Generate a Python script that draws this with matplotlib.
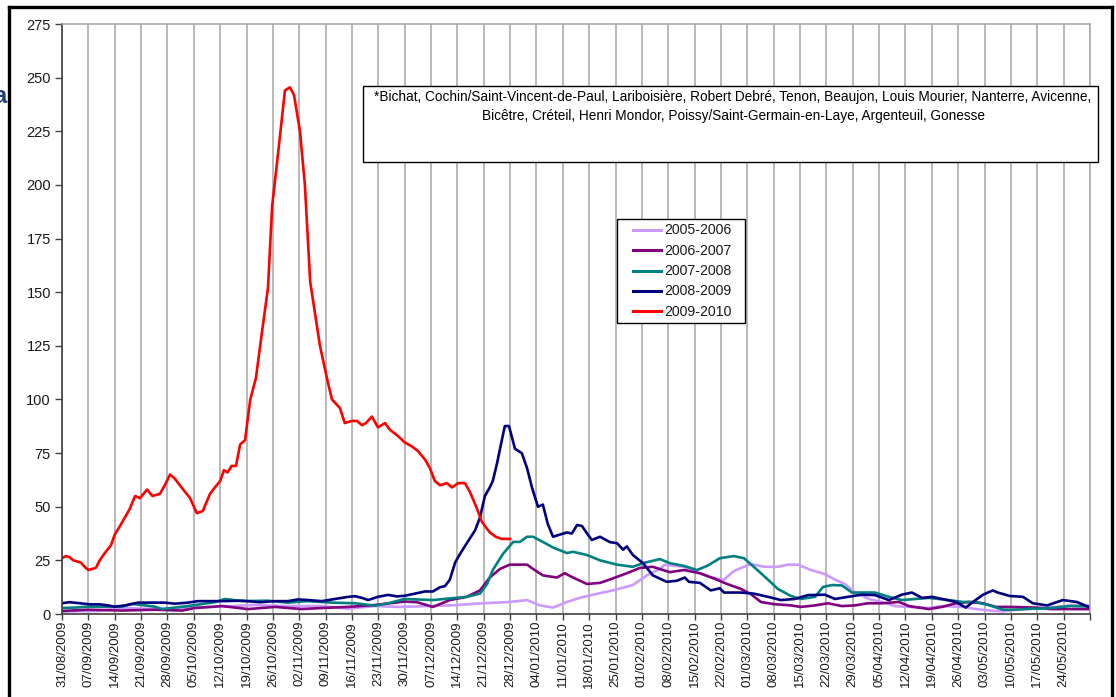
import matplotlib
matplotlib.use("Agg")
import matplotlib.pyplot as plt
from matplotlib.lines import Line2D
from matplotlib.patches import Rectangle
import pandas as pd

plt.rcParams['font.family'] = ['Liberation Sans', 'DejaVu Sans']

# ---------------- data (day offset from 31/08/2009, value) ----------------
start_date = "2009-08-31"
n_weeks = 39

days_0506 = [0, 9.6, 15.9, 24.7, 33.5, 42.5, 51.2, 60, 69, 76, 83.1, 89.7, 103, 111.8, 118.9, 123.5,
             126.9, 130.4, 134.1, 137.5, 141, 146.3, 151.6, 155.3, 158.8, 160.1, 165.2, 168.6, 172.3,
             175.8, 178.4, 181.1, 183, 186.4, 190.1, 192.8, 195.4, 198.9, 202.6, 205.3, 207.9, 210.6,
             214.3, 217.7, 221.2, 224.9, 230.2, 233.7, 239.2, 242.7, 246.4, 249.9, 253.3, 257, 260.5,
             263.9, 267.7, 273]
vals_0506 = [1.2, 1.4, 2.8, 2.3, 2.8, 3.5, 4.2, 3.7, 3.7, 2.5, 3.7, 3.3, 4, 5, 5.6, 6.5,
             4, 3, 5.6, 7.5, 9, 11, 13.5, 18, 21, 23, 22, 19.5, 17,
             16, 20, 22, 23.3, 22, 22, 23, 23, 20.5, 18.6, 16, 14, 10,
             7, 5.6, 3.7, 3.3, 2.8, 3.7, 3.3, 2.3, 1.6, 1.2, 2, 2.3, 3,
             3.3, 4, 4]

days_0607 = [0, 6.9, 15.9, 24.7, 31.9, 35.3, 42.5, 49.4, 56.6, 63.7, 69, 76, 83.1, 91, 94.3, 98.5,
             103, 107.5, 111, 113.6, 116.3, 118.9, 121.6, 123.5, 125.1, 127.7, 131.4, 133.5, 135.7,
             139.4, 142.9, 146.3, 150, 153.5, 156.9, 161.4, 165.2, 169.4, 173.1, 176.6, 180.3, 182.9,
             185.6, 189, 193.6, 196.2, 200, 203.4, 207.1, 210.6, 214, 217.7, 222.3, 224.9, 230.2,
             233.7, 237.4, 240.8, 244.6, 248, 251.7, 258.6, 262.4, 273]
vals_0607 = [1.4, 2, 1.6, 2, 1.6, 2.8, 3.7, 2.3, 3.3, 2.3, 2.8, 3.3, 4.2, 5.8, 5.5, 3.3,
             6.5, 8, 11, 17, 21, 23, 23, 23, 21, 18, 17, 19, 17,
             14, 14.5, 16.6, 19, 21.5, 22, 19.5, 20.5, 19, 16.6, 14, 11.7, 9.3,
             5.6, 4.6, 4, 3.3, 4, 5, 3.7, 4, 5, 5, 5.6, 3.7, 2.3,
             3.3, 5, 5.6, 5, 3.3, 3.3, 3, 2.3, 2.3]

days_0708 = [0, 3.5, 6.9, 12.7, 15.9, 18.6, 22, 24.7, 26.6, 30, 33.5, 36.6, 40.6, 43.3, 47.8, 54.7,
             60, 65.3, 71.7, 77.8, 83.1, 86.6, 91, 98.5, 107.5, 111, 112.9, 114.4, 117.1, 119.8,
             121.6, 123.5, 125.1, 127.7, 130.4, 134.1, 135.7, 139.4, 142.9, 147.4, 151.6, 154.3,
             158.8, 161.4, 165.2, 168.6, 171.3, 174.7, 178.4, 181.1, 183.7, 187.5, 190.1, 193.6,
             196.2, 200, 202.1, 204.5, 207.1, 209.8, 215.9, 219.6, 223, 230.2, 235.5, 239.2, 242.7,
             246.4, 249.9, 253.3, 257, 260.5, 263.9, 267.7, 273]
vals_0708 = [2.8, 3, 3.4, 3.4, 3.4, 4.7, 4, 3.4, 2.3, 3, 3.7, 4.5, 5.5, 7, 6, 6.2,
             5.3, 6, 5.3, 5, 3.9, 5, 7, 6.5, 8, 9.5, 14, 20.5, 28, 33.6,
             33.6, 36, 36, 33.6, 31, 28.4, 29, 27.5, 25, 23, 22, 23.7,
             25.6, 23.7, 22.4, 20.5, 22.4, 26, 27, 26, 22, 16, 11.7, 8.4,
             7, 8, 12.6, 13.5, 13.3, 10, 10, 8, 6.5, 7.5, 6.5, 5.6, 5.6,
             4, 2, 2, 2.5, 2.5, 3, 3.7, 3.5]

days_0809 = [0, 2, 4.8, 7.4, 10, 12.2, 14, 16.7, 20.2, 23.4, 27.3, 30, 33.5, 36.1, 42.5, 47.8,
             52.6, 56.6, 60, 62.7, 65.3, 69, 72.5, 76, 77.8, 79.7, 81.3, 83.9, 86.6, 89, 91, 93.7,
             96.4, 98.5, 100.4, 101.7, 103, 104.4, 105.7, 107.5, 109.7, 111, 112.3, 113.6, 114.4,
             115.5, 116.8, 117.6, 118.7, 120.3, 122.1, 123.5, 124.8, 126.4, 127.7, 129, 130.4,
             132.2, 134.1, 135.4, 136.8, 138.1, 139.4, 140.7, 142.9, 145.5, 147.4, 149, 150, 151.6,
             154.3, 156.9, 160.6, 163.3, 165.4, 166.5, 169.4, 172.3, 174.7, 175.8, 180.3, 183.7,
             187.5, 190.9, 194.6, 198.1, 202.6, 205.3, 208.7, 212.4, 215.9, 219.6, 223, 225.7,
             228.4, 231, 233.7, 237.4, 240, 241.9, 244.6, 247.2, 248.5, 251.7, 255.2, 257.8,
             261.6, 265.8, 269.5, 273]
vals_0809 = [5, 5.5, 5, 4.5, 4.5, 4, 3.4, 4, 5.3, 5.3, 5.3, 4.8, 5.3, 6, 6, 6.2,
             5.5, 6, 6, 6.8, 6.5, 6, 7, 8, 8.3, 7.5, 6.5, 8, 8.9, 8.2, 8.5, 9.5,
             10.5, 10.5, 12.5, 13, 16, 24, 28, 33, 39, 45, 55, 59, 62,
             70, 81, 87.6, 87.6, 77, 75, 68, 59, 50, 51, 42, 36,
             37, 38, 37.5, 41.5, 41, 37.6, 34.5, 36, 33.5, 33, 30, 31.5, 27.5,
             23.7, 18, 15, 15.5, 17, 15, 14.5, 11, 12, 10, 10, 9.5,
             8, 6.5, 7, 8.8, 9, 7, 8, 9, 8.8, 6.5, 9, 10,
             7.5, 8, 7, 5.6, 3, 5.6, 9, 11, 10, 8.4, 8, 5,
             4, 6.5, 5.6, 3]

days_0910 = [0, 1, 2, 3, 4, 5, 6, 7, 9, 10, 11.4, 13, 14, 15.4, 16.7, 18, 19.4, 20.7, 22.6, 24,
             26, 27.3, 28.7, 30, 31.3, 34, 35.8, 37.4, 39.3, 40.6, 42, 43, 44, 45, 46.2, 47.3,
             48.6, 50, 51.5, 53, 54.7, 55.8, 57.4, 59.2, 60.5, 61.6, 63.2, 64.5, 65.9, 67.2, 68.5,
             70.6, 71.7, 73.8, 75.1, 77, 78.3, 79.7, 80.7, 82.3, 83.9, 85.8, 87, 89.2, 91, 93,
             94.5, 96.4, 97.7, 99, 100.4, 102.2, 103.6, 105.2, 107, 108.3, 110, 111.5, 113.6,
             115.2, 116.8, 119]
vals_0910 = [26, 27, 26.5, 25, 24.5, 24, 22, 20.5, 21.5, 25, 28.5, 32, 37, 41, 45, 49, 55, 54, 58, 55,
             56, 60, 65, 63, 60, 54, 47, 48, 56, 59, 62, 67, 66, 69, 69, 79,
             81, 100, 110, 130, 152, 190, 215, 244, 245.5, 242, 225, 200, 155, 140, 125,
             108, 100, 96, 89, 90, 90, 88, 89, 92, 87, 89, 86, 83, 80, 78,
             76, 72, 68, 62, 60, 61, 59, 61, 61, 57, 50, 43, 38,
             36, 35, 35]

series = [
    ("2005-2006", days_0506, vals_0506, "#CC99FF"),
    ("2006-2007", days_0607, vals_0607, "#800080"),
    ("2007-2008", days_0708, vals_0708, "#008080"),
    ("2008-2009", days_0809, vals_0809, "#000080"),
    ("2009-2010", days_0910, vals_0910, "#FF0000"),
]

hospitals_line1 = ("*Bichat, Cochin/Saint-Vincent-de-Paul, Lariboisière, Robert Debré, Tenon, "
                   "Beaujon, Louis Mourier, Nanterre, Avicenne,")
hospitals_line2 = "Bicêtre, Créteil, Henri Mondor, Poissy/Saint-Germain-en-Laye, Argenteuil, Gonesse"

# ---------------- figure ----------------
W, H = 1116, 697
fig = plt.figure(figsize=(W / 100, H / 100), dpi=100)
fig.patch.set_facecolor("white")


def fx(px):
    return px / W


def fy(py):
    return 1 - py / H


ax = fig.add_axes([fx(62), fy(614), fx(1090) - fx(62), fy(24) - fy(614)])

for label, d, v, c in series:
    ax.plot(d, v, color=c, lw=1.9, label=label, solid_joinstyle="round")

last_day = 7 * n_weeks
ax.set_xlim(0, last_day)
ax.set_ylim(0, 275)
ax.set_yticks(range(0, 276, 25))

tick_days = list(range(0, last_day + 1, 7))
dates = pd.date_range(start_date, periods=len(tick_days), freq="7D")
tick_labels = [dt.strftime("%d/%m/%Y") for dt in dates]
tick_labels[-1] = ""
ax.set_xticks(tick_days)
ax.set_xticklabels(tick_labels, rotation=90, fontsize=9.5, color="#1a1a1a")

ax.xaxis.grid(True, color="#a6a6a6", lw=1.1)
ax.yaxis.grid(False)
ax.set_axisbelow(True)

for s in ["top", "right"]:
    ax.spines[s].set_color("#a6a6a6")
    ax.spines[s].set_linewidth(1.1)
for s in ["left", "bottom"]:
    ax.spines[s].set_color("#404040")
    ax.spines[s].set_linewidth(1.2)

ax.tick_params(axis="y", length=5, width=1, color="#404040", labelsize=10.5,
               labelcolor="#1a1a1a", pad=3)
ax.tick_params(axis="x", length=4, width=1, color="#404040", pad=1)

# legend box drawn in figure pixels
fig.patches.append(Rectangle((fx(617), fy(323)), fx(745) - fx(617), fy(219) - fy(323),
                             transform=fig.transFigure, facecolor="white",
                             edgecolor="black", lw=1.0, zorder=5))
for i, (label, d, v, c) in enumerate(series):
    yy = 230 + i * 20.3
    fig.lines.append(Line2D([fx(633), fx(661)], [fy(yy), fy(yy)], transform=fig.transFigure,
                            color=c, lw=2.2, zorder=6))
    fig.text(fx(664), fy(yy + 0.5), label, ha="left", va="center", fontsize=10.2,
             color="#1a1a1a", zorder=6)

# note box
fig.patches.append(Rectangle((fx(363), fy(162)), fx(1098) - fx(363), fy(86) - fy(162),
                             transform=fig.transFigure, facecolor="white",
                             edgecolor="black", lw=1.0, zorder=5))
fig.text(fx(733), fy(97), hospitals_line1, ha="center", va="center",
         fontsize=9.8, color="black", zorder=6)
fig.text(fx(733), fy(116), hospitals_line2, ha="center", va="center",
         fontsize=9.8, color="black", zorder=6)

# outer frame (left, top, right)
frame_kw = dict(transform=fig.transFigure, color="black", lw=2.4, solid_capstyle="projecting")
fig.lines.append(Line2D([fx(9), fx(9)], [0, fy(7)], **frame_kw))
fig.lines.append(Line2D([fx(9), fx(1112)], [fy(7), fy(7)], **frame_kw))
fig.lines.append(Line2D([fx(1112), fx(1112)], [fy(7), 0], **frame_kw))

# letter partly hidden behind the left edge, as in the source picture
fig.text(fx(-7), fy(103), "a", fontsize=17, fontweight="bold", color="#1F3D7A",
         ha="left", va="baseline")

fig.savefig("out.png", dpi=100, facecolor="white")
